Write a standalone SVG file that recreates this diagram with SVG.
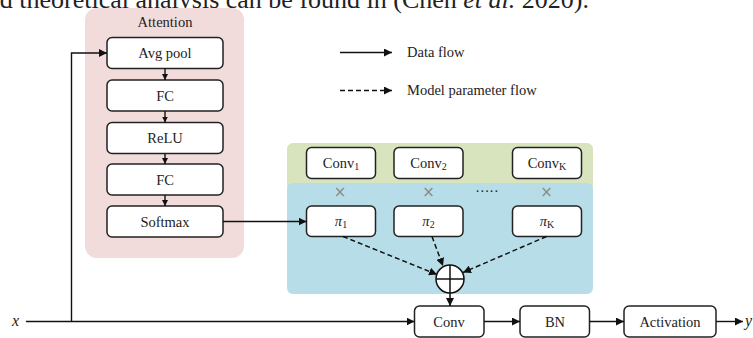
<svg xmlns="http://www.w3.org/2000/svg" width="753" height="338" viewBox="0 0 753 338">
  <defs>
    <marker id="arrow" viewBox="0 0 10 10" refX="10" refY="5" markerWidth="8" markerHeight="8" markerUnits="userSpaceOnUse" orient="auto">
      <path d="M0,0 L10,5 L0,10 z" fill="#111"/>
    </marker>
    <marker id="arrowSmall" viewBox="0 0 10 10" refX="10" refY="5" markerWidth="6" markerHeight="6" markerUnits="userSpaceOnUse" orient="auto">
      <path d="M0,0 L10,5 L0,10 z" fill="#111"/>
    </marker>
  </defs>
  <style>
    text { font-family: "Liberation Serif", "Times New Roman", serif; fill: #222; }
    .lbl { font-size: 14.5px; text-anchor: middle; }
    .box { fill: #ffffff; stroke: #222; stroke-width: 1.5; }
    .solid { fill: none; stroke: #111; stroke-width: 1.4; }
    .dash { fill: none; stroke: #111; stroke-width: 1.5; stroke-dasharray: 5 3; }
    .times { font-size: 15px; fill: #8a8a8a; text-anchor: middle; font-family: "DejaVu Sans", sans-serif; }
    .sub { font-size: 10px; }
  </style>

  <rect width="753" height="338" fill="#ffffff"/>

  <!-- running text of the page above the figure -->
  <text x="589" y="8" font-size="26" text-anchor="end">and theoretical analysis can be found in (Chen <tspan font-style="italic">et al.</tspan> 2020).</text>

  <!-- background panels -->
  <g id="attention-panel">
    <rect x="85" y="8" width="159" height="250" rx="12" fill="#f2dcdb"/>
    <text class="lbl" x="165" y="27">Attention</text>
  </g>
  <g id="kernel-panel">
    <rect x="287" y="143" width="306" height="48" rx="6" fill="#d7e4bd"/>
    <rect x="287" y="183" width="306" height="111" rx="6" fill="#b7dde8"/>
  </g>

  <!-- attention branch -->
  <g id="avg-pool">
    <rect class="box" x="107" y="37.5" width="116" height="31" rx="5"/>
    <text class="lbl" x="165" y="58">Avg pool</text>
  </g>
  <g id="fc1">
    <rect class="box" x="107" y="80" width="116" height="31" rx="5"/>
    <text class="lbl" x="165" y="100.5">FC</text>
  </g>
  <g id="relu">
    <rect class="box" x="107" y="122.5" width="116" height="31" rx="5"/>
    <text class="lbl" x="165" y="143">ReLU</text>
  </g>
  <g id="fc2">
    <rect class="box" x="107" y="164" width="116" height="31" rx="5"/>
    <text class="lbl" x="165" y="184.5">FC</text>
  </g>
  <g id="softmax">
    <rect class="box" x="107" y="206" width="116" height="31" rx="5"/>
    <text class="lbl" x="165" y="226.5">Softmax</text>
  </g>

  <!-- kernels -->
  <g id="conv-1">
    <rect class="box" x="306.5" y="147.5" width="69" height="31" rx="5"/>
    <text class="lbl" x="341" y="168">Conv<tspan class="sub" dy="2">1</tspan></text>
  </g>
  <g id="conv-2">
    <rect class="box" x="394" y="147.5" width="69" height="31" rx="5"/>
    <text class="lbl" x="428.5" y="168">Conv<tspan class="sub" dy="2">2</tspan></text>
  </g>
  <g id="conv-k">
    <rect class="box" x="512.5" y="147.5" width="69" height="31" rx="5"/>
    <text class="lbl" x="547" y="168">Conv<tspan class="sub" dy="2">K</tspan></text>
  </g>

  <!-- multiplication marks and ellipsis -->
  <g id="products">
    <text class="times" x="340" y="197">×</text>
    <text class="times" x="428.5" y="197">×</text>
    <text class="times" x="546.5" y="197">×</text>
    <text x="487" y="196" font-size="14" text-anchor="middle" fill="#555">·····</text>
  </g>

  <!-- attention weights -->
  <g id="pi-1">
    <rect class="box" x="306.5" y="206" width="69" height="30.5" rx="5"/>
    <text class="lbl" x="341" y="226"><tspan font-style="italic">π</tspan><tspan class="sub" dy="2">1</tspan></text>
  </g>
  <g id="pi-2">
    <rect class="box" x="394" y="206" width="69" height="30.5" rx="5"/>
    <text class="lbl" x="428.5" y="226"><tspan font-style="italic">π</tspan><tspan class="sub" dy="2">2</tspan></text>
  </g>
  <g id="pi-k">
    <rect class="box" x="512.5" y="206" width="69" height="30.5" rx="5"/>
    <text class="lbl" x="547" y="226"><tspan font-style="italic">π</tspan><tspan class="sub" dy="2">K</tspan></text>
  </g>

  <!-- aggregation node -->
  <g id="sum">
    <circle cx="450" cy="279" r="14" fill="#ffffff" stroke="#111" stroke-width="1.5"/>
    <line x1="436" y1="279" x2="464" y2="279" stroke="#111" stroke-width="1.5"/>
    <line x1="450" y1="265" x2="450" y2="293" stroke="#111" stroke-width="1.5"/>
  </g>

  <!-- main path -->
  <g id="conv">
    <rect class="box" x="414.5" y="306" width="69.5" height="31" rx="5"/>
    <text class="lbl" x="449" y="326.5">Conv</text>
  </g>
  <g id="bn">
    <rect class="box" x="520" y="306" width="69.5" height="31" rx="5"/>
    <text class="lbl" x="555" y="326.5">BN</text>
  </g>
  <g id="activation">
    <rect class="box" x="624" y="306" width="92" height="31" rx="5"/>
    <text class="lbl" x="670" y="326.5">Activation</text>
  </g>

  <text x="12" y="326" font-size="16" font-style="italic">x</text>
  <text x="745" y="326" font-size="16" font-style="italic">y</text>

  <!-- legend -->
  <g id="legend">
    <line class="solid" x1="340" y1="52.5" x2="392" y2="52.5" marker-end="url(#arrow)"/>
    <text x="407" y="57" font-size="14.5">Data flow</text>
    <line class="dash" x1="340" y1="90.5" x2="392" y2="90.5" stroke-dasharray="4 3" marker-end="url(#arrow)"/>
    <text x="407" y="95" font-size="14.5">Model parameter flow</text>
  </g>

  <!-- connectors -->
  <g id="connectors">
    <path class="solid" d="M26,321.5 H414.5" marker-end="url(#arrow)"/>
    <path class="solid" d="M71.5,321.5 V53 H107" marker-end="url(#arrow)"/>
    <line class="solid" x1="165" y1="68.5" x2="165" y2="80" marker-end="url(#arrowSmall)"/>
    <line class="solid" x1="165" y1="111" x2="165" y2="122.5" marker-end="url(#arrowSmall)"/>
    <line class="solid" x1="165" y1="153.5" x2="165" y2="164" marker-end="url(#arrowSmall)"/>
    <line class="solid" x1="165" y1="195" x2="165" y2="206" marker-end="url(#arrowSmall)"/>
    <line class="solid" x1="223" y1="221.5" x2="306.5" y2="221.5" marker-end="url(#arrow)"/>
    <line class="dash" x1="343" y1="236.5" x2="437" y2="274.5" marker-end="url(#arrow)"/>
    <line class="dash" x1="432" y1="236.5" x2="443" y2="266" marker-end="url(#arrow)"/>
    <line class="dash" x1="546.5" y1="236.5" x2="463" y2="272.5" marker-end="url(#arrow)"/>
    <line class="dash" x1="450" y1="293" x2="450" y2="306" stroke-dasharray="4 2" marker-end="url(#arrow)"/>
    <line class="solid" x1="484" y1="321.5" x2="520" y2="321.5" marker-end="url(#arrow)"/>
    <line class="solid" x1="589.5" y1="321.5" x2="624" y2="321.5" marker-end="url(#arrow)"/>
    <line class="solid" x1="716" y1="321.5" x2="743" y2="321.5" marker-end="url(#arrow)"/>
  </g>
</svg>
